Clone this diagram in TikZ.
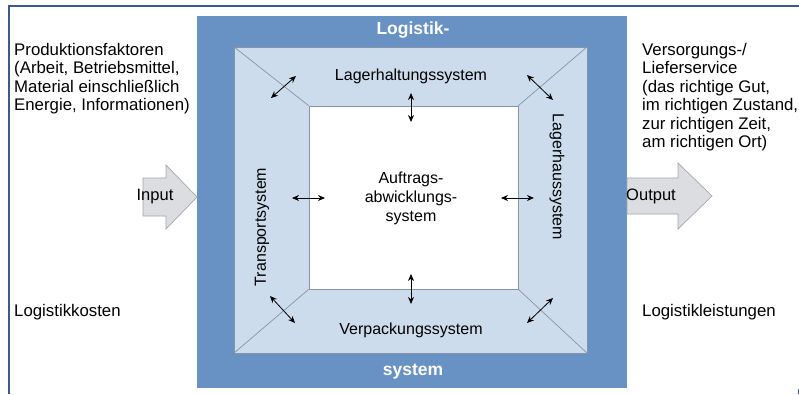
\documentclass[tikz,border=0pt]{standalone}
\usepackage{fontspec}
\setmainfont{Liberation Sans}
\usetikzlibrary{arrows.meta}
\definecolor{outerblue}{RGB}{104,145,196}
\definecolor{lightblue}{RGB}{205,220,236}
\definecolor{edgegray}{RGB}{135,148,168}
\definecolor{framebl}{RGB}{62,88,140}
\definecolor{arrowfill}{RGB}{220,221,224}
\definecolor{arrowedge}{RGB}{165,167,172}
\begin{document}
\begin{tikzpicture}[x=1pt,y=-1pt,
  txt/.style={font=\fontsize{16.8}{18.5}\selectfont, inner sep=0pt, align=left},
  iotxt/.style={font=\fontsize{16.5}{19}\selectfont, inner sep=0pt},
  intxt/.style={font=\fontsize{16}{19}\selectfont, inner sep=0pt, align=center},
  boldtxt/.style={font=\fontsize{17.5}{20}\selectfont\bfseries, text=white, inner sep=0pt},
  dbl/.style={{Stealth[length=7pt,width=6pt]}-{Stealth[length=7pt,width=6pt]}, line width=0.8pt, black},
  bigarrow/.style={fill=arrowfill, draw=arrowedge, line width=0.7pt},
  diag/.style={draw=edgegray, line width=0.7pt}]
\useasboundingbox (0,0) rectangle (799,394);
\fill[white] (0,0) rectangle (799,394);
% frame
\draw[framebl, line width=1.4pt] (9,394) -- (9,6) -- (799,6);
\draw[framebl, line width=1pt] (798,389) -- (798,394);
% boxes
\node[fill=outerblue, inner sep=0pt, minimum width=430pt, minimum height=372pt] (outer) at (412,202) {};
\node[fill=lightblue, draw=edgegray, line width=0.7pt, inner sep=0pt, minimum width=353pt, minimum height=306pt] (ring) at (410.5,200) {};
\node[fill=white, draw=edgegray, line width=0.7pt, inner sep=0pt, minimum width=209pt, minimum height=183pt] (core) at (413.5,197.5) {};
\draw[diag] (ring.north west) -- (core.north west);
\draw[diag] (ring.north east) -- (core.north east);
\draw[diag] (ring.south west) -- (core.south west);
\draw[diag] (ring.south east) -- (core.south east);
% titles
\node[boldtxt] (t1) at (413,30) {Logistik-};
\node[boldtxt] (t2) at (413,372) {system};
% subsystems
\node[intxt] (lh) at (411,76) {Lagerhaltungssystem};
\node[intxt] (vp) at (411,330) {Verpackungssystem};
\node[intxt, rotate=90] (tp) at (262,227) {Transportsystem};
\node[intxt, rotate=-90] (lhs) at (557,177) {Lagerhaussystem};
\node[intxt] (aw) at (411,198) {Auftrags-\\abwicklungs-\\system};
% double arrows
\coordinate (a1) at (411,93); \coordinate (a2) at (411,122);
\coordinate (b1) at (411,274); \coordinate (b2) at (411,304);
\coordinate (c1) at (292,198); \coordinate (c2) at (325,198);
\coordinate (d1) at (501,198); \coordinate (d2) at (534,198);
\coordinate (e1) at (271,98); \coordinate (e2) at (296,76);
\coordinate (f1) at (527,75); \coordinate (f2) at (553,100);
\coordinate (g1) at (270,296); \coordinate (g2) at (295,323);
\coordinate (h1) at (527,323); \coordinate (h2) at (553,298);
\draw[dbl] (a1) -- (a2);
\draw[dbl] (b1) -- (b2);
\draw[dbl] (c1) -- (c2);
\draw[dbl] (d1) -- (d2);
\draw[dbl] (e1) -- (e2);
\draw[dbl] (f1) -- (f2);
\draw[dbl] (g1) -- (g2);
\draw[dbl] (h1) -- (h2);
% input / output arrows
\draw[bigarrow] (143,178) -- (166,178) -- (166,165) -- (197,197) -- (166,229) -- (166,216) -- (143,216) -- cycle;
\node[iotxt] (in) at (155,197) {Input};
\draw[bigarrow] (627,178) -- (678,178) -- (678,163) -- (712,196) -- (678,229) -- (678,214) -- (627,214) -- cycle;
\node[iotxt] (out) at (651,196) {Output};
% side texts
\node[txt, anchor=north west] (pf) at (14,43) {Produktionsfaktoren\\(Arbeit, Betriebsmittel,\\Material einschließlich\\Energie, Informationen)};
\node[txt, anchor=north west] (vs) at (642,43) {Versorgungs-/\\Lieferservice\\(das richtige Gut,\\im richtigen Zustand,\\zur richtigen Zeit,\\am richtigen Ort)};
\node[txt, anchor=west] (lk) at (14,312) {Logistikkosten};
\node[txt, anchor=west] (ll) at (642,312) {Logistikleistungen};
\end{tikzpicture}
\end{document}
